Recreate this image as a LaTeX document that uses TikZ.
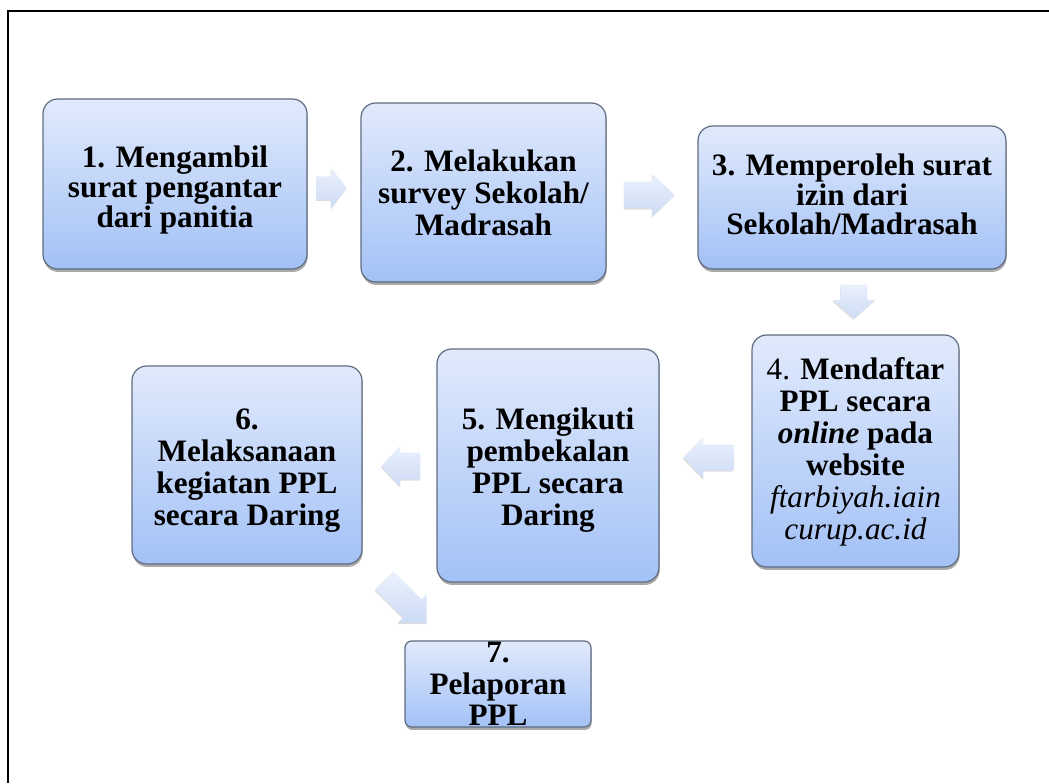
\documentclass[tikz,border=0pt]{standalone}
\usepackage{fontspec}
\setmainfont{Liberation Serif}
\usetikzlibrary{shapes.arrows,shadows,calc}
\definecolor{boxtop}{RGB}{225,234,252}
\definecolor{boxbot}{RGB}{163,193,246}
\definecolor{boxline}{RGB}{95,108,128}
\definecolor{arrlight}{RGB}{235,241,252}
\definecolor{arrdark}{RGB}{205,219,246}
\newcommand{\boxfont}[1]{\bfseries\fontsize{23.4}{#1}\selectfont}
\tikzset{
  stepbox/.style={rounded corners=11pt, draw=boxline, line width=0.9pt,
    top color=boxtop, bottom color=boxbot,
    drop shadow={shadow xshift=0.5pt, shadow yshift=-2.2pt, opacity=0.45, fill=black!75},
    inner sep=0pt},
  boxtext/.style={align=center, inner sep=0pt, font=\boxfont{23.6}},
  blockarrow/.style={single arrow, inner xsep=0pt, single arrow head indent=0pt,
    anchor=tip, draw=none, top color=arrlight, bottom color=arrdark,
    drop shadow={shadow xshift=-0.5pt, shadow yshift=-1pt, opacity=0.13, fill=black}},
  frameline/.style={line width=1.7pt, black},
}
\begin{document}
\begin{tikzpicture}[x=0.75pt, y=-0.75pt]
\useasboundingbox (0,0) rectangle (1049,783);
\draw[frameline] (8,783) -- (8,11) -- (1049,11);

% boxes
\node[stepbox, minimum width=198pt, minimum height=127.5pt] (b1) at (175,184) {};
\node[stepbox, minimum width=183.75pt, minimum height=134.25pt] (b2) at (483.5,192.5) {};
\node[stepbox, minimum width=231pt, minimum height=107.25pt] (b3) at (852,197.5) {};
\node[stepbox, minimum width=155.25pt, minimum height=174pt] (b4) at (855.5,451) {};
\node[stepbox, minimum width=166.5pt, minimum height=174.75pt] (b5) at (548,465.5) {};
\node[stepbox, minimum width=172.5pt, minimum height=148.5pt] (b6) at (247,465) {};
\node[stepbox, rounded corners=5pt, minimum width=139.5pt, minimum height=64.5pt] (b7) at (498,684) {};

% texts
\node[boxtext, font=\boxfont{22.8}] (t1) at ($(b1.center)+(0,6)$)
  {1. Mengambil\\surat pengantar\\dari panitia};
\node[boxtext, font=\boxfont{24}] (t2) at ($(b2.center)+(0,0)$)
  {2. Melakukan\\survey Sekolah/\\Madrasah};
\node[boxtext, font=\boxfont{22.3}] (t3) at ($(b3.center)+(0,-3)$)
  {3. Memperoleh surat\\izin dari\\Sekolah/Madrasah};
\node[boxtext, font=\boxfont{24}] (t4) at ($(b4.center)+(0,1)$)
  {\textmd{4.} Mendaftar\\PPL secara\\\textit{online} pada\\website\\\textmd{\textit{ftarbiyah.iain}}\\\textmd{\textit{curup.ac.id}}};
\node[boxtext, font=\boxfont{24}] (t5) at ($(b5.center)+(0,5)$)
  {5. Mengikuti\\pembekalan\\PPL secara\\Daring};
\node[boxtext, font=\boxfont{24}] (t6) at ($(b6.center)+(0,6)$)
  {6.\\Melaksanaan\\kegiatan PPL\\secara Daring};
\node[boxtext] (t7) at ($(b7.center)+(0,0)$) {7.\\Pelaporan\\PPL};

% block arrows
\node[blockarrow, minimum height=22.5pt, minimum width=30pt, inner ysep=8.5pt,
  single arrow head extend=6.5pt, single arrow tip angle=106] (a12) at (347,188) {};
\node[blockarrow, minimum height=37.5pt, minimum width=31.5pt, inner ysep=9.75pt,
  single arrow head extend=6pt, single arrow tip angle=88] (a23) at (675,195) {};
\node[blockarrow, shape border rotate=270, minimum height=25.5pt, minimum width=31.5pt,
  inner xsep=9.75pt, inner ysep=0pt,
  single arrow head extend=6pt, single arrow tip angle=97] (a34) at (854,319) {};
\node[blockarrow, shape border rotate=180, minimum height=37.5pt, minimum width=30.75pt, inner ysep=9.4pt,
  single arrow head extend=6pt, single arrow tip angle=92] (a45) at (683,457.5) {};
\node[blockarrow, shape border rotate=180, minimum height=29.25pt, minimum width=30pt, inner ysep=9.75pt,
  single arrow head extend=5.25pt, single arrow tip angle=94] (a56) at (381,466) {};
\node[blockarrow, rotate=-45, minimum height=45pt, minimum width=30pt, inner ysep=9.4pt,
  single arrow head extend=5.6pt, single arrow tip angle=90] (a67) at (427,623) {};
\end{tikzpicture}
\end{document}
